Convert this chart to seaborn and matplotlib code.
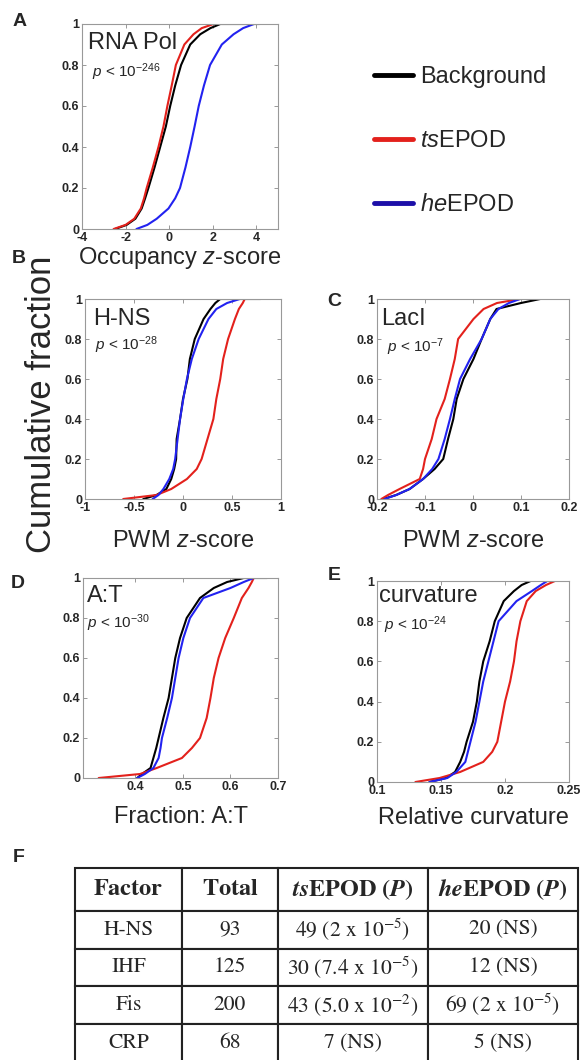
import numpy as np
import pandas as pd
import matplotlib
matplotlib.use('Agg')
from matplotlib import pyplot as plt
from matplotlib.lines import Line2D
import seaborn as sns

# cumulative fraction levels at which the x values were read off the curves
# (last 1 repeated = end of the flat tail at y=1)
levels = [0, 0.02, 0.05, 0.1, 0.15, 0.2, 0.3, 0.4, 0.5, 0.6, 0.7, 0.8, 0.9, 0.95, 0.98, 1, 1]

# A  RNA Pol occupancy z-score
rnapol_bg = [-2.48, -1.95, -1.55, -1.26, -1.1, -0.95, -0.67, -0.41, -0.15, 0.05, 0.28, 0.55, 0.97, 1.43, 1.9, 2.35, 4.15]
rnapol_ts = [-2.55, -2.0, -1.6, -1.3, -1.15, -1.03, -0.75, -0.49, -0.26, -0.08, 0.12, 0.31, 0.7, 1.12, 1.5, 2.04, 2.04]
rnapol_he = [-1.5, -1.0, -0.57, -0.03, 0.28, 0.5, 0.75, 0.97, 1.17, 1.36, 1.6, 1.88, 2.42, 2.96, 3.4, 3.9, 3.9]

# B  H-NS PWM z-score
hns_bg = [-0.405, -0.27, -0.17, -0.12, -0.09, -0.07, -0.065, -0.03, 0.0, 0.045, 0.07, 0.12, 0.21, 0.28, 0.33, 0.38, 0.79]
hns_ts = [-0.61, -0.27, -0.12, 0.04, 0.14, 0.19, 0.25, 0.31, 0.34, 0.38, 0.41, 0.46, 0.53, 0.57, 0.61, 0.63, 0.63]
hns_he = [-0.31, -0.25, -0.2, -0.14, -0.1, -0.08, -0.055, -0.03, 0.003, 0.04, 0.09, 0.16, 0.26, 0.34, 0.45, 0.58, 0.58]

# C  LacI PWM z-score
laci_bg = [-0.187, -0.16, -0.132, -0.104, -0.08, -0.062, -0.052, -0.041, -0.034, -0.02, 0.001, 0.018, 0.036, 0.049, 0.1, 0.14, 0.14]
laci_ts = [-0.191, -0.177, -0.153, -0.111, -0.104, -0.1, -0.086, -0.076, -0.059, -0.048, -0.038, -0.031, 0.001, 0.022, 0.05, 0.098, 0.098]
laci_he = [-0.184, -0.16, -0.132, -0.104, -0.085, -0.072, -0.059, -0.048, -0.038, -0.027, -0.006, 0.018, 0.036, 0.053, 0.075, 0.098, 0.098]

# D  A:T fraction
at_bg = [0.404, 0.414, 0.432, 0.438, 0.444, 0.449, 0.459, 0.47, 0.477, 0.484, 0.494, 0.508, 0.536, 0.565, 0.593, 0.628, 0.677]
at_ts = [0.323, 0.41, 0.445, 0.498, 0.519, 0.536, 0.55, 0.558, 0.565, 0.575, 0.589, 0.607, 0.624, 0.638, 0.645, 0.649, 0.649]
at_he = [0.404, 0.42, 0.438, 0.449, 0.453, 0.456, 0.467, 0.477, 0.484, 0.491, 0.501, 0.515, 0.543, 0.6, 0.628, 0.649, 0.649]

# E  relative curvature
curv_bg = [0.141, 0.154, 0.161, 0.165, 0.168, 0.17, 0.175, 0.178, 0.18, 0.183, 0.188, 0.192, 0.199, 0.207, 0.213, 0.22, 0.22]
curv_ts = [0.130, 0.149, 0.165, 0.183, 0.19, 0.194, 0.197, 0.2, 0.204, 0.207, 0.209, 0.212, 0.217, 0.224, 0.232, 0.239, 0.239]
curv_he = [0.141, 0.155, 0.162, 0.169, 0.171, 0.173, 0.177, 0.18, 0.183, 0.187, 0.191, 0.195, 0.209, 0.221, 0.228, 0.233, 0.233]

panel_names = ["RNA Pol", "H-NS", "LacI", "A:T", "curvature"]
panel_pvals = ["-246", "-28", "-7", "-30", "-24"]
panel_xlabels = [r"Occupancy $z$-score", r"PWM $z$-score", r"PWM $z$-score",
                 "Fraction: A:T", "Relative curvature"]
panel_xticks = [[-4, -2, 0, 2, 4], [-1, -0.5, 0, 0.5, 1], [-0.2, -0.1, 0, 0.1, 0.2],
                [0.4, 0.5, 0.6, 0.7], [0.1, 0.15, 0.2, 0.25]]
panel_xticklabels = [["-4", "-2", "0", "2", "4"], ["-1", "-0.5", "0", "0.5", "1"],
                     ["-0.2", "-0.1", "0", "0.1", "0.2"], ["0.4", "0.5", "0.6", "0.7"],
                     ["0.1", "0.15", "0.2", "0.25"]]
panel_series = [(rnapol_bg, rnapol_ts, rnapol_he), (hns_bg, hns_ts, hns_he),
                (laci_bg, laci_ts, laci_he), (at_bg, at_ts, at_he),
                (curv_bg, curv_ts, curv_he)]

groups = ["Background", "tsEPOD", "heEPOD"]
group_labels = ["Background", r"$ts$EPOD", r"$he$EPOD"]

# table F
table_factors = ["H-NS", "IHF", "Fis", "CRP"]
table_totals = [93, 125, 200, 68]
ts_counts = [49, 30, 43, 7]
ts_pvals = [r"2 x $10^{-5}$", r"7.4 x $10^{-5}$", r"5.0 x $10^{-2}$", "NS"]
he_counts = [20, 12, 69, 5]
he_pvals = ["NS", "NS", r"2 x $10^{-5}$", "NS"]

# ---- style ----
sns.set_style("ticks")
plt.rcParams['font.family'] = ['Liberation Sans', 'DejaVu Sans']
plt.rcParams['mathtext.fontset'] = 'custom'
plt.rcParams['mathtext.rm'] = 'Liberation Sans'
plt.rcParams['mathtext.it'] = 'Liberation Sans:italic'
plt.rcParams['mathtext.bf'] = 'Liberation Sans:bold'

palette = {"Background": "black", "tsEPOD": "#e3211c", "heEPOD": "#2222f0"}

fig = plt.figure(figsize=(5.81, 10.60), dpi=100)
W, H = 581, 1060

# axes boxes in pixels: left, top, right, bottom
boxes = [(82, 24, 278, 229), (85, 299, 281, 499), (377, 299, 569, 499),
         (83, 578, 278, 778), (377, 581, 569, 782)]
xlims = [(-4, 5), (-1, 1), (-0.2, 0.2), (0.29, 0.7), (0.1, 0.25)]
label_pads = [1, 12, 12, 9.5, 7.5]
name_pos = [(0.03, 0.88), (0.04, 0.87), (0.02, 0.87), (0.02, 0.88), (0.01, 0.895)]
p_pos = [(0.05, 0.74), (0.05, 0.745), (0.05, 0.735), (0.02, 0.75), (0.035, 0.756)]

for i in range(5):
    l, t, r, b = boxes[i]
    ax = fig.add_axes([l / W, 1 - b / H, (r - l) / W, (b - t) / H])
    rows = []
    for g, vals in zip(groups, panel_series[i]):
        for v, f in zip(vals, levels):
            rows.append({"value": v, "frac": f, "group": g})
    df = pd.DataFrame(rows)
    sns.lineplot(data=df, x="value", y="frac", hue="group", hue_order=groups,
                 palette=palette, estimator=None, sort=False, lw=1.5,
                 legend=False, ax=ax)
    ax.set_xlim(*xlims[i])
    ax.set_ylim(0, 1)
    ax.set_xticks(panel_xticks[i], panel_xticklabels[i])
    ax.set_yticks([0, 0.2, 0.4, 0.6, 0.8, 1], ["0", "0.2", "0.4", "0.6", "0.8", "1"])
    ax.tick_params(direction='in', length=3, width=0.6, color='#888888', pad=2,
                   labelsize=9, top=True, right=True)
    for lab in ax.get_xticklabels() + ax.get_yticklabels():
        lab.set_fontweight('bold')
    for s in ax.spines.values():
        s.set_color('#999999')
        s.set_linewidth(0.8)
    ax.set_ylabel("")
    ax.set_xlabel(panel_xlabels[i], fontsize=17, labelpad=label_pads[i])
    ax.text(name_pos[i][0], name_pos[i][1], panel_names[i], transform=ax.transAxes,
            fontsize=17, va='baseline', ha='left')
    ax.text(p_pos[i][0], p_pos[i][1], r"$p$ < 10$^{%s}$" % panel_pvals[i],
            transform=ax.transAxes, fontsize=11, va='baseline', ha='left')

fig.text(42 / W, 1 - 404 / H, "Cumulative fraction", rotation=90, fontsize=25,
         ha='center', va='center')

for letter, (x, y) in zip("ABCDEF", [(20, 21), (19, 258), (334, 302), (18, 583), (334, 576), (19, 857)]):
    fig.text(x / W, 1 - y / H, letter, fontsize=14, fontweight='bold', ha='center', va='center')

# legend
handles = [Line2D([], [], color=palette[g], lw=3.5) for g in groups]
handles[2].set_color('#1c0fa8')
fig.legend(handles, group_labels, loc='upper left', bbox_to_anchor=(374 / W, 1 - 66 / H),
           frameon=False, fontsize=17, handlelength=1.65, handletextpad=0.3,
           labelspacing=1.78, borderpad=0, borderaxespad=0)

# table F
tab_ax = fig.add_axes([75 / W, 1 - 1062 / H, (578 - 75) / W, (1062 - 868) / H])
tab_ax.axis('off')
cell_text = []
for f, tot, tc, tp, hc, hp in zip(table_factors, table_totals, ts_counts, ts_pvals, he_counts, he_pvals):
    cell_text.append([f, str(tot), f"{tc} ({tp})", f"{hc} ({hp})"])
col_labels = [r"$\mathbf{Factor}$", r"$\mathbf{Total}$",
              r"$\mathbfit{ts}\mathbf{EPOD\ (}\mathbfit{P}\mathbf{)}$",
              r"$\mathbfit{he}\mathbf{EPOD\ (}\mathbfit{P}\mathbf{)}$"]
tab = tab_ax.table(cellText=cell_text, colLabels=col_labels, cellLoc='center',
                   colWidths=[107, 96, 150, 150], bbox=[0, 0, 1, 1])
tab.auto_set_font_size(False)
for (r, c), cell in tab.get_celld().items():
    cell.set_edgecolor('#222222')
    cell.set_linewidth(1.5)
    txt = cell.get_text()
    txt.set_fontfamily('STIXGeneral')
    txt.set_math_fontfamily('stix')
    txt.set_fontsize(17.5 if r == 0 else 15.5)
    if r == 0:
        cell.set_height(cell.get_height() * 43 / 38)

fig.savefig('out.png', dpi=100)
